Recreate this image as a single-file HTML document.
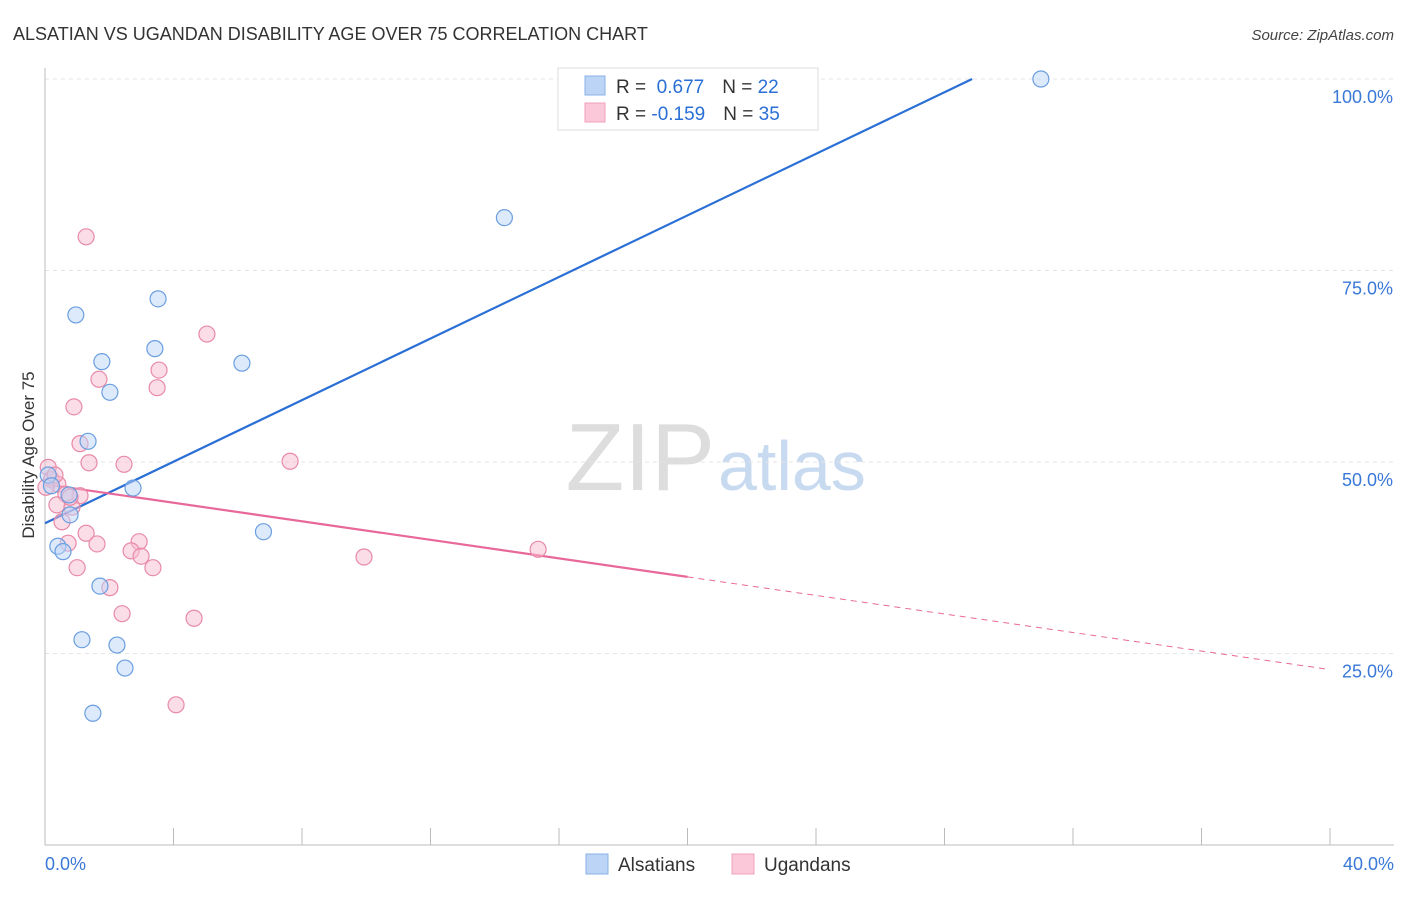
<!DOCTYPE html>
<html><head><meta charset="utf-8"><style>
body{margin:0;background:#fff;font-family:"Liberation Sans",sans-serif}
svg text{font-family:"Liberation Sans",sans-serif}
</style></head><body>
<svg id="chart" width="1406" height="892" viewBox="0 0 1406 892" xmlns="http://www.w3.org/2000/svg">
<text x="13" y="40" font-size="18" fill="#333">ALSATIAN VS UGANDAN DISABILITY AGE OVER 75 CORRELATION CHART</text>
<text x="1394" y="40" font-size="15" fill="#444" text-anchor="end" font-style="italic">Source: ZipAtlas.com</text>
<text x="715" y="490" font-size="96" text-anchor="end" fill="#ddd" font-family="Liberation Serif">ZIP</text>
<text x="718" y="490" font-size="70" fill="#c8daf0">atlas</text>
<g id="grid"></g>
<g id="axes"></g>
<g id="lines"></g>
<g id="points"></g>
<text transform="translate(34,455) rotate(-90)" font-size="17" fill="#333" text-anchor="middle">Disability Age Over 75</text>
<g>
<rect x="558" y="68" width="260" height="62" fill="#fff" stroke="#ddd"/>
<rect x="585" y="76" width="20" height="19" fill="#bcd5f7" stroke="#8ab0e8"/>
<rect x="585" y="103" width="20" height="19" fill="#fac8d8" stroke="#f0a0b8"/>
<text x="616" y="93" font-size="19" fill="#333">R = <tspan fill="#2a6fd6">&#160;0.677</tspan><tspan dx="18">N = </tspan><tspan fill="#2a6fd6">22</tspan></text>
<text x="616" y="120" font-size="19" fill="#333">R = <tspan fill="#2a6fd6">-0.159</tspan><tspan dx="18">N = </tspan><tspan fill="#2a6fd6">35</tspan></text>
</g>
<g>
<rect x="586" y="854" width="22" height="20" fill="#bcd5f7" stroke="#8ab0e8"/>
<text x="618" y="871" font-size="19" fill="#333">Alsatians</text>
<rect x="732" y="854" width="22" height="20" fill="#fac8d8" stroke="#f0a0b8"/>
<text x="764" y="871" font-size="19" fill="#333">Ugandans</text>
</g>
</svg>
<script>
const xTicks=[0,4,8,12,16,20,24,28,32,36,40];
const yTicks=[25,50,75,100];
const yTickLabels=["25.0%","50.0%","75.0%","100.0%"];
const blueX=[31.0,14.3,3.52,0.96,3.42,1.77,6.13,2.02,1.34,2.74,0.1,0.2,0.75,0.78,6.8,0.4,0.56,1.71,1.15,2.24,2.49,1.49];
const blueY=[100,81.9,71.3,69.2,64.8,63.1,62.9,59.1,52.7,46.6,48.3,46.9,45.7,43.1,40.9,39.0,38.3,33.8,26.8,26.1,23.1,17.2];
const pinkX=[1.28,5.04,1.68,3.55,3.49,0.9,1.09,1.37,2.46,7.63,0.1,0.2,0.4,0.65,1.09,0.37,0.84,0.53,1.28,0.72,1.62,2.93,2.68,2.99,9.93,15.35,3.36,1.0,2.02,2.4,4.64,4.08,0.31,0.78,0.03];
const pinkY=[79.4,66.7,60.8,62.0,59.7,57.2,52.4,49.9,49.7,50.1,49.3,47.7,47.1,45.8,45.6,44.4,44.1,42.2,40.7,39.4,39.3,39.6,38.4,37.7,37.6,38.6,36.2,36.2,33.6,30.2,29.6,18.3,48.3,45.4,46.7];
const blueTrend=[[0,42.0],[28.86,100]];
const pinkTrend=[[0,47.1],[20,35.0],[40,22.9]];
const NS="http://www.w3.org/2000/svg";
const X=v=>45+v*32.125, Y=v=>845-v*7.66;
function mk(tag,attrs,parent){const e=document.createElementNS(NS,tag);for(const k in attrs)e.setAttribute(k,attrs[k]);parent.appendChild(e);return e;}
const grid=document.getElementById('grid'),axes=document.getElementById('axes'),lines=document.getElementById('lines'),pts=document.getElementById('points');
yTicks.forEach((t,i)=>{
 const l=mk('line',{x1:45,x2:1394,y1:Y(t),y2:Y(t),stroke:'#e4e4e4','stroke-dasharray':'4,4'},grid);
 
 
 const tx=mk('text',{x:1393,y:Y(t)+24,'font-size':18,fill:'#3a78d8','text-anchor':'end'},axes);
 tx.textContent=yTickLabels[i];
 
 
});
const ax=mk('line',{x1:45,x2:1394,y1:845,y2:845,stroke:'#bbb'},axes);


const ay=mk('line',{x1:45,x2:45,y1:68,y2:845,stroke:'#bbb'},axes);


xTicks.forEach(t=>{
 const l=mk('line',{x1:X(t),x2:X(t),y1:828,y2:845,stroke:'#bbb'},axes);
 
 
});
[[0,'0.0%','start',45],[40,'40.0%','end',1394]].forEach(a=>{
 const tx=mk('text',{x:a[3],y:870,'font-size':18,fill:'#3a78d8','text-anchor':a[2]},axes);
 tx.textContent=a[1];
 
 
});
function addPts(xs,ys,fill,stroke,name){
 xs.forEach((x,i)=>{
  const c=mk('circle',{cx:X(x),cy:Y(ys[i]),r:8,fill:fill,'fill-opacity':0.5,stroke:stroke,'stroke-width':1.2},pts);
  
  
 });
}
addPts(pinkX,pinkY,'#f8bcd0','#e88aa8','ugandan-point');
addPts(blueX,blueY,'#bcd5f7','#6a9ee0','alsatian-point');
const bl=mk('line',{x1:X(blueTrend[0][0]),y1:Y(blueTrend[0][1]),x2:X(blueTrend[1][0]),y2:Y(blueTrend[1][1]),stroke:'#2a6fd6','stroke-width':2.2},lines);


const pl=mk('line',{x1:X(pinkTrend[0][0]),y1:Y(pinkTrend[0][1]),x2:X(pinkTrend[1][0]),y2:Y(pinkTrend[1][1]),stroke:'#e8689a','stroke-width':2.2},lines);


const pd=mk('line',{x1:X(pinkTrend[1][0]),y1:Y(pinkTrend[1][1]),x2:X(pinkTrend[2][0]),y2:Y(pinkTrend[2][1]),stroke:'#e8689a','stroke-width':1,'stroke-dasharray':'6,5'},lines);


</script>
</body></html>
